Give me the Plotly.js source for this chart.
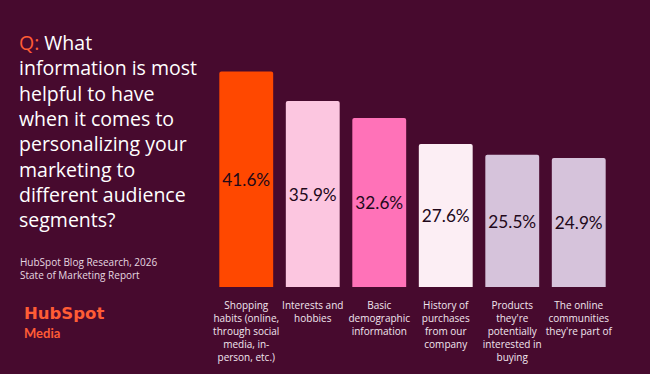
<!DOCTYPE html>
<html>
<head>
<meta charset="utf-8">
<script src="https://cdn.plot.ly/plotly-3.0.1.min.js"></script>
<style>html,body{margin:0;padding:0;background:#470A2E;}#chart{width:650px;height:374px;}</style>
</head>
<body>
<div id="chart"></div>
<script>
const categories = [
  "Shopping<br>habits (online,<br>through social<br>media, in-<br>person, etc.)",
  "Interests and<br>hobbies",
  "Basic<br>demographic<br>information",
  "History of<br>purchases<br>from our<br>company",
  "Products<br>they're<br>potentially<br>interested in<br>buying",
  "The online<br>communities<br>they're part of"
];
const values = [41.6, 35.9, 32.6, 27.6, 25.5, 24.9];
const barColors = ["#FF4800", "#FCC6E0", "#FF72B8", "#FCEEF4", "#D6C3DB", "#D6C3DB"];
const valueLabels = values.map(v => v.toFixed(1) + "%");
const titleText = '<span style="color:#FF5C35">Q:</span> What<br>information is most<br>helpful to have<br>when it comes to<br>personalizing your<br>marketing to<br>different audience<br>segments?';
const sourceText = "HubSpot Blog Research, 2026<br>State of Marketing Report";

const FONT = "'Open Sans', Lato, sans-serif";
const LATO = "Lato, 'Open Sans', sans-serif";

const trace = {
  type: "bar",
  x: categories,
  y: values,
  marker: {color: barColors, cornerradius: 2, line: {width: 0}},
  text: valueLabels,
  textposition: "inside",
  insidetextanchor: "middle",
  textangle: 0,
  textfont: {family: LATO, size: 19, color: "#22081a"},
  hoverinfo: "none"
};

const PW = 650 - 213 - 38, PH = 374 - 30 - 87;
const px = x => (x - 213) / PW;
const py = y => (374 - 87 - y) / PH;

const layout = {
  width: 650, height: 374,
  paper_bgcolor: "#470A2E",
  plot_bgcolor: "#470A2E",
  margin: {l: 213, r: 38, t: 30, b: 87},
  bargap: 0.19,
  showlegend: false,
  title: {
    text: titleText,
    font: {family: FONT, size: 19.5, color: "#FFFFFF"},
    xref: "container", yref: "container",
    x: 19/650, xanchor: "left",
    y: 1 - 50/374, yanchor: "top"
  },
  xaxis: {
    showgrid: false, zeroline: false, showline: false, ticks: "",
    tickfont: {family: FONT, size: 10, color: "#F2E6EE"},
    ticklabelstandoff: 11,
    tickangle: 0
  },
  yaxis: {
    range: [0, 49.6], visible: false, showgrid: false, zeroline: false
  },
  annotations: [
    {
      text: sourceText, xref: "paper", yref: "paper",
      x: px(18), xanchor: "left",
      y: py(253), yanchor: "top",
      showarrow: false, align: "left",
      font: {family: FONT, size: 10, color: "#E6D8E0"}
    },
    {
      text: "<b>HubSpot</b>", xref: "paper", yref: "paper",
      x: px(22), xanchor: "left",
      y: py(313), yanchor: "middle",
      showarrow: false, align: "left",
      font: {family: "'DejaVu Sans', sans-serif", size: 16.5, color: "#FF5C35"}
    },
    {
      text: "<b>Media</b>", xref: "paper", yref: "paper",
      x: px(22), xanchor: "left",
      y: py(333), yanchor: "middle",
      showarrow: false, align: "left",
      font: {family: LATO, size: 13, color: "#FF5C35"}
    }
  ]
};

Plotly.newPlot("chart", [trace], layout, {displayModeBar: false, staticPlot: true});
</script>
</body>
</html>
